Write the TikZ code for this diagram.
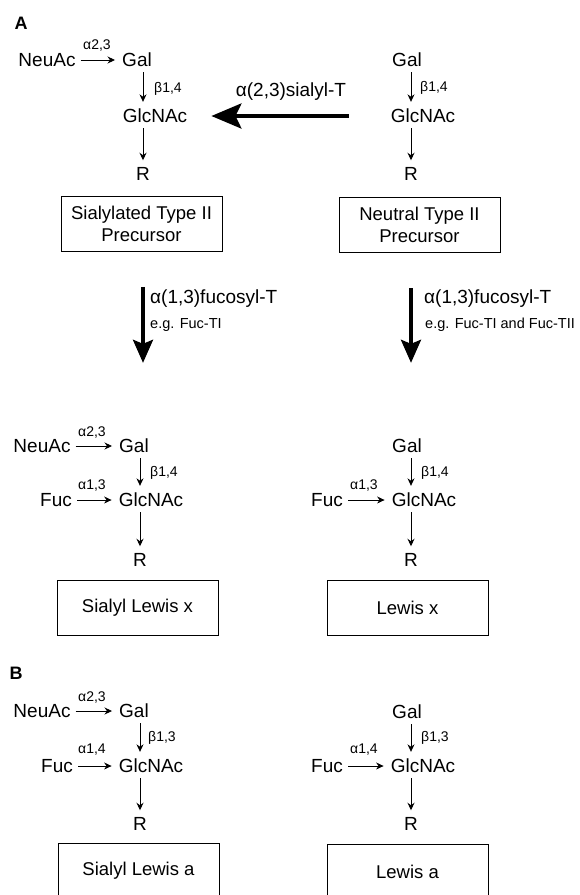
\documentclass[tikz,border=0pt]{standalone}
\usepackage{fontspec}
\setmainfont{Liberation Sans}
\usetikzlibrary{arrows.meta,scopes,calc}

\begin{document}
\begin{tikzpicture}[x=1pt,y=-1pt,
    sugar/.style={font=\fontsize{19}{21}\selectfont,inner sep=2pt},
    link/.style={font=\fontsize{14}{16}\selectfont,inner sep=0pt},
    eg/.style={font=\fontsize{14.5}{16}\selectfont,inner sep=0pt,anchor=west},
    panel/.style={font=\fontsize{18}{20}\selectfont\bfseries,inner sep=0pt},
    glycan/.style={draw,line width=0.9pt,minimum width=161pt,minimum height=55pt,align=center,font=\fontsize{18.5}{22}\selectfont},
    bond/.style={-{Stealth[length=7.5pt,width=7pt]},line width=0.9pt,shorten <=3pt,shorten >=5pt},
    enzyme/.style={line width=4pt,-{Stealth[length=30pt,width=25pt,inset=6pt]}},
    fucT/.style={line width=3.5pt,-{Stealth[length=23pt,width=20pt,inset=4pt]}},
]
    \useasboundingbox (0,0) rectangle (579,895);
    \clip (0,0) rectangle (579,895);

    % A: precursors
    \node[panel] (pA) at (21,23) {A};
    \node[sugar] (neu1) at (47,60) {NeuAc};
    \node[sugar] (gal1) at (137,60) {Gal};
    \node[sugar] (glc1) at (155,116) {GlcNAc};
    \node[sugar] (r1) at (143,174) {R};
    \node[link] (l1a) at (97,46) {α2,3};
    \node[link] (l1b) at (168,89) {β1,4};
    \node[glycan] (box1) at (141.5,224) {Sialylated Type II\\Precursor};

    \node[sugar] (gal2) at (407,60) {Gal};
    \node[sugar] (glc2) at (423,116) {GlcNAc};
    \node[sugar] (r2) at (411,174) {R};
    \node[link] (l2b) at (434,88) {β1,4};
    \node[glycan] (box2) at (419.5,224.5) {Neutral Type II\\Precursor};

    \node[sugar] (st) at (291,92) {α(2,3)sialyl-T};
    \draw[enzyme] ([xshift=-40pt]glc2.west) -- ([xshift=22pt]glc1.east);

    % fucosyltransferases
    \node[sugar,anchor=west] (ft1) at (148,299) {α(1,3)fucosyl-T};
    \node[eg] (eg1) at (150,325) {e.g. Fuc-TI};
    \node[sugar,anchor=west] (ft2) at (422,299) {α(1,3)fucosyl-T};
    \node[eg] (eg2) at (425,325) {e.g. Fuc-TI and Fuc-TII};

    % A: Lewis x products
    \node[sugar] (neu3) at (42,446) {NeuAc};
    \node[sugar] (gal3) at (134,446) {Gal};
    \node[sugar] (fuc3) at (56,500) {Fuc};
    \node[sugar] (glc3) at (151,500) {GlcNAc};
    \node[sugar] (r3) at (140,560) {R};
    \node[link] (l3a) at (92,432) {α2,3};
    \node[link] (l3b) at (164,473) {β1,4};
    \node[link] (l3c) at (92,485) {α1,3};
    \node[glycan] (box3) at (137.5,607.5) {Sialyl Lewis x};

    \node[sugar] (gal4) at (407,446) {Gal};
    \node[sugar] (fuc4) at (327,500) {Fuc};
    \node[sugar] (glc4) at (424,500) {GlcNAc};
    \node[sugar] (r4) at (411,560) {R};
    \node[link] (l4b) at (435,473) {β1,4};
    \node[link] (l4c) at (364,485) {α1,3};
    \node[glycan] (box4) at (407.5,607.5) {Lewis x};

    \draw[fucT] ($(box1.south -| r1)+(0,35)$) -- ($(gal3.north -| r1)+(0,-74)$);
    \draw[fucT] ($(box2.south -| r2)+(0,36)$) -- ($(gal4.north -| r2)+(0,-74)$);

    % B: Lewis a
    \node[panel] (pB) at (16,673) {B};
    \node[sugar] (neu5) at (42,711) {NeuAc};
    \node[sugar] (gal5) at (134,711) {Gal};
    \node[sugar] (fuc5) at (57,766) {Fuc};
    \node[sugar] (glc5) at (151,766) {GlcNAc};
    \node[sugar] (r5) at (140,824) {R};
    \node[link] (l5a) at (92,697) {α2,3};
    \node[link] (l5b) at (162,738) {β1,3};
    \node[link] (l5c) at (92,750) {α1,4};
    \node[glycan] (box5) at (138.5,870.5) {Sialyl Lewis a};

    \node[sugar] (gal6) at (407,712) {Gal};
    \node[sugar] (fuc6) at (327,766) {Fuc};
    \node[sugar] (glc6) at (423,766) {GlcNAc};
    \node[sugar] (r6) at (411,824) {R};
    \node[link] (l6b) at (435,738) {β1,3};
    \node[link] (l6c) at (364,750) {α1,4};
    \node[glycan] (box6) at (407.5,871.5) {Lewis a};

    {[bond]
        \draw (neu1) -- (gal1);
        \draw (gal1.south -| r1) -- (glc1.north -| r1);
        \draw (glc1.south -| r1) -- (r1);
        \draw (gal2.south -| r2) -- (glc2.north -| r2);
        \draw (glc2.south -| r2) -- (r2);
        \draw (neu3) -- (gal3);
        \draw (fuc3) -- (glc3);
        \draw (gal3.south -| r3) -- (glc3.north -| r3);
        \draw (glc3.south -| r3) -- (r3);
        \draw (fuc4) -- (glc4);
        \draw (gal4.south -| r4) -- (glc4.north -| r4);
        \draw (glc4.south -| r4) -- (r4);
        \draw (neu5) -- (gal5);
        \draw (fuc5) -- (glc5);
        \draw (gal5.south -| r5) -- (glc5.north -| r5);
        \draw (glc5.south -| r5) -- (r5);
        \draw (fuc6) -- (glc6);
        \draw (gal6.south -| r6) -- (glc6.north -| r6);
        \draw (glc6.south -| r6) -- (r6);
    }
\end{tikzpicture}
\end{document}
